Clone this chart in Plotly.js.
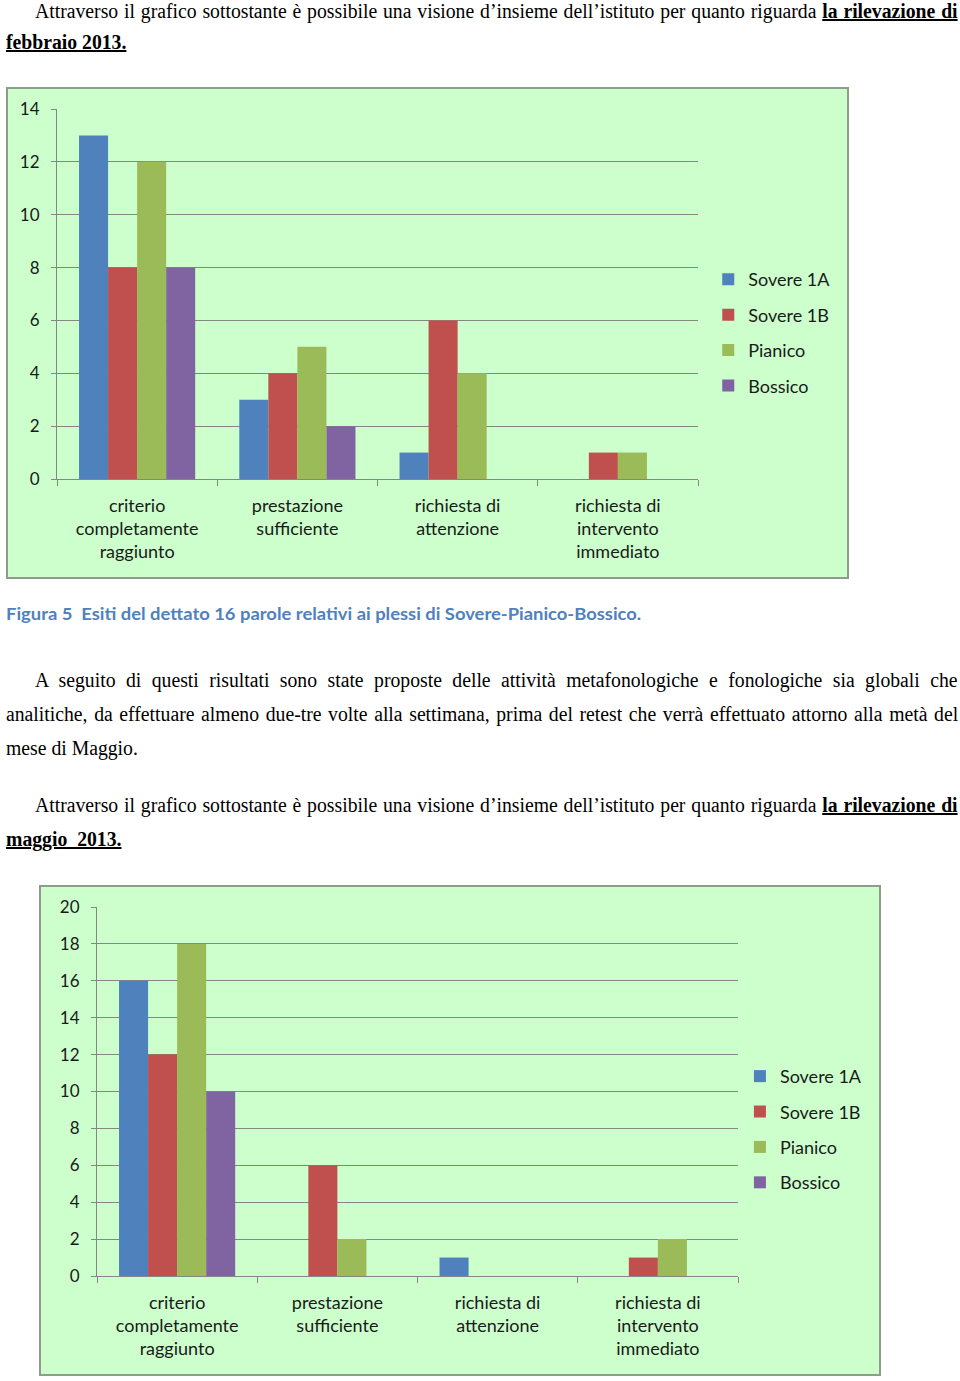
<!DOCTYPE html>
<html>
<head>
<meta charset="utf-8">
<script src="https://cdn.plot.ly/plotly-3.0.1.min.js"></script>
<style>
  html, body { margin:0; padding:0; background:#fff; }
  body { width:960px; height:1381px; position:relative; overflow:hidden;
         font-family:"Liberation Serif","Times New Roman",serif; color:#000; }
  .ln { position:absolute; font-size:20px; line-height:24px; white-space:pre;
        transform-origin:0 50%; }
  .ln b { font-weight:bold; }
  .box { position:absolute; border:2px solid #8d9c8d; background:#ccffcc; box-sizing:border-box; }
  .plot { position:absolute; }
  .cap { position:absolute; font-family:Lato,"Open Sans",sans-serif; font-weight:bold;
         font-size:17px; line-height:20px; color:#4F81BD; white-space:pre; transform-origin:0 50%; }
</style>
</head>
<body>
<div class="box" style="left:6px;top:87px;width:843px;height:492px;"></div>
<div id="chart1" class="plot" style="left:8px;top:89px;width:839px;height:488px;"></div>
<div class="box" style="left:39px;top:885px;width:842px;height:491px;"></div>
<div id="chart2" class="plot" style="left:41px;top:887px;width:838px;height:487px;"></div>
<div id="caption" class="cap" style="left:6px;top:604px;">Figura 5  Esiti del dettato 16 parole relativi ai plessi di Sovere-Pianico-Bossico.</div>
<div id="text"></div>
<script>
// ---------- data ----------
const categories = ['criterio completamente raggiunto', 'prestazione sufficiente', 'richiesta di attenzione', 'richiesta di intervento immediato'];
const tickLabels = ['criterio<br>completamente<br>raggiunto', 'prestazione<br>sufficiente', 'richiesta di<br>attenzione', 'richiesta di<br>intervento<br>immediato'];
const seriesNames = ['Sovere 1A', 'Sovere 1B', 'Pianico', 'Bossico'];
const seriesColors = ['#4F81BD', '#C0504D', '#9BBB59', '#8064A2'];

// febbraio 2013
const febSovere1A = [13, 3, 1, 0];
const febSovere1B = [8, 4, 6, 1];
const febPianico  = [12, 5, 4, 1];
const febBossico  = [8, 2, 0, 0];

// maggio 2013
const magSovere1A = [16, 0, 1, 0];
const magSovere1B = [12, 6, 0, 1];
const magPianico  = [18, 2, 0, 2];
const magBossico  = [10, 0, 0, 0];

// ---------- text lines ----------
const lines = [
  {y:11,  x:35, w:923, just:true, html:'Attraverso il grafico sottostante è possibile una visione d’insieme dell’istituto per quanto riguarda <b><u>la rilevazione di</u></b>'},
  {y:42,  x:6,  html:'<b><u>febbraio 2013.</u></b>'},
  {y:680, x:35, w:923, just:true, html:'A seguito di questi risultati sono state proposte delle attività metafonologiche e fonologiche sia globali che'},
  {y:714, x:6,  w:952, just:true, html:'analitiche, da effettuare almeno due-tre volte alla settimana, prima del retest che verrà effettuato attorno alla metà del'},
  {y:748, x:6,  html:'mese di Maggio.'},
  {y:805, x:35, w:923, just:true, html:'Attraverso il grafico sottostante è possibile una visione d’insieme dell’istituto per quanto riguarda <b><u>la rilevazione di</u></b>'},
  {y:839, x:6,  html:'<b><u>maggio  2013.</u></b>'}
];
const holder = document.getElementById('text');
const els = lines.map(L => {
  const d = document.createElement('div');
  d.className = 'ln';
  d.style.left = L.x + 'px';
  d.style.top = (L.y - 12) + 'px';
  d.innerHTML = L.html;
  holder.appendChild(d);
  return d;
});
let scale = 1;
lines.forEach((L, i) => { if (L.just) scale = Math.min(scale, L.w / els[i].offsetWidth); });
scale *= 0.985;
lines.forEach((L, i) => {
  const el = els[i];
  if (L.just) {
    const nat = el.offsetWidth;
    const spaces = (el.textContent.match(/ /g) || []).length;
    const extra = (L.w / scale - nat) / spaces;
    el.style.wordSpacing = extra + 'px';
  }
  el.style.transform = 'scaleX(' + scale + ')';
});
// caption fit
const cap = document.getElementById('caption');
cap.style.transform = 'scaleX(' + (635 / cap.offsetWidth) + ')';

// ---------- charts ----------
function makeTraces(vals) {
  return vals.map((v, i) => ({
    type: 'bar', x: categories, y: v, name: seriesNames[i],
    legendgroup: 'g' + i,
    marker: {color: seriesColors[i], line: {width: 0}},
    hoverinfo: 'none'
  }));
}
function makeLayout(w, h, m, yMax, legX, legY) {
  m.autoexpand = false;
  return {
    width: w, height: h, margin: m,
    paper_bgcolor: 'rgba(0,0,0,0)', plot_bgcolor: 'rgba(0,0,0,0)',
    barmode: 'group', bargap: 0.275, bargroupgap: 0,
    font: {family: 'Lato, "Open Sans", sans-serif', size: 17, color: '#1a1a1a'},
    xaxis: {type: 'category', tickvals: categories, ticktext: tickLabels,
            showline: true, linecolor: '#868686', linewidth: 1,
            ticks: 'outside', tickson: 'boundaries', ticklen: 6, tickcolor: '#868686',
            showgrid: false, zeroline: false, fixedrange: true,
            ticklabelstandoff: 10,
            tickfont: {size: 18, color: '#1a1a1a'}},
    yaxis: {range: [0, yMax], tick0: 0, dtick: 2,
            showline: true, linecolor: '#868686', linewidth: 1,
            ticks: 'outside', ticklen: 5, tickcolor: '#868686',
            showgrid: true, gridcolor: '#868686', gridwidth: 1, zeroline: false,
            ticklabelstandoff: 8, fixedrange: true,
            tickfont: {size: 17, color: '#1a1a1a'}},
    legend: {x: legX, y: legY, xanchor: 'left', yanchor: 'top',
             font: {size: 18, color: '#1a1a1a'}, itemwidth: 30,
             traceorder: 'grouped', tracegroupgap: 9, bgcolor: 'rgba(0,0,0,0)'},
    showlegend: true
  };
}
Plotly.newPlot('chart1',
  makeTraces([febSovere1A, febSovere1B, febPianico, febBossico]),
  makeLayout(839, 488, {l: 49, r: 149, t: 20, b: 98}, 14, 1.016, 0.589),
  {staticPlot: true, displayModeBar: false});
Plotly.newPlot('chart2',
  makeTraces([magSovere1A, magSovere1B, magPianico, magBossico]),
  makeLayout(838, 487, {l: 56, r: 141, t: 20, b: 98}, 20, 1.003, 0.591),
  {staticPlot: true, displayModeBar: false});
</script>
</body>
</html>
